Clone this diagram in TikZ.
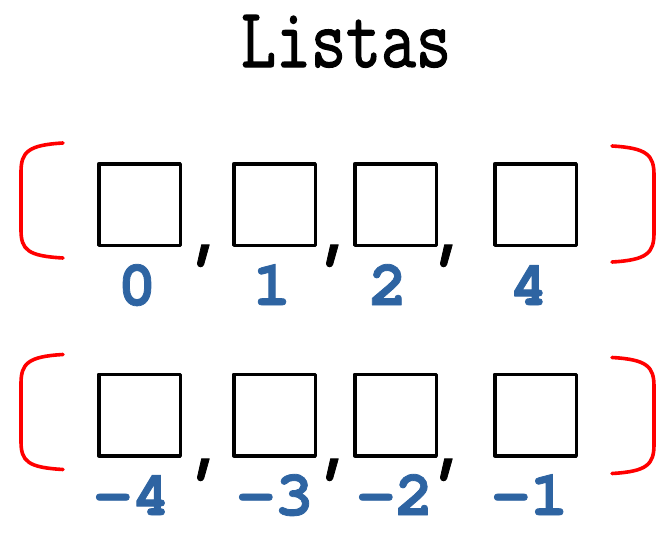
\documentclass[tikz,border=0pt]{standalone}
\usepackage{fontspec}
\newfontfamily\monob{texgyrecursor-bold.otf}[FakeBold=1.2]
\newfontfamily\tieudefont{Latin Modern Mono}[FakeStretch=0.8, FakeBold=1.5]
\usetikzlibrary{positioning}
\definecolor{xanhso}{RGB}{46,100,162}
\begin{document}
\begin{tikzpicture}[x=1pt, y=-1pt, line join=round, line cap=round,
	o/.style={draw, line width=3.5pt, minimum size=81.5pt, inner sep=0pt},
	idx/.style={text=xanhso, font=\fontsize{64}{64}\monob, anchor=base, inner sep=0pt},
	phay/.style={font=\fontsize{64}{64}\monob, anchor=base, inner sep=0pt},
	ngoac/.style={draw=red, line width=3.6pt}]
	\useasboundingbox (0,0) rectangle (672,543);
	\node[font=\fontsize{85}{85}\tieudefont, anchor=base] (tieude) at (346,67) {Listas};
	% Hàng trên
	\foreach \x/\lx/\s [count=\i] in {139.5/137/0, 274.5/272/1, 395.5/388/2, 535.5/529/4}{
		\node[o] (a\i) at (\x,204.5) {};
		\node[idx] (la\i) at (\lx,305) {\s};}
	% Hàng dưới
	\foreach \x/\lx/\s [count=\i] in {139.5/132/-4, 274.5/275/-3, 395.5/395/-2, 535.5/530/-1}{
		\node[o] (b\i) at (\x,415) {};
		\node[idx] (lb\i) at (\lx,515) {\s};}
	\foreach \x [count=\i] in {208,337,451}{
		\node[phay] (pa\i) at (\x,255) {,};
		\node[phay] (pb\i) at (\x,469) {,};}
	% Ngoặc
	\foreach \dy in {0,211.5}{
		\draw[ngoac] (63,{143+\dy}) .. controls (28,{145+\dy}) and (21,{152+\dy}) .. (21,{172+\dy}) -- (21,{230+\dy}) .. controls (21,{250+\dy}) and (28,{256+\dy}) .. (63,{258+\dy});
		\draw[ngoac] (612,{146+\dy}) .. controls (647,{148+\dy}) and (654,{155+\dy}) .. (654,{175+\dy}) -- (654,{233+\dy}) .. controls (654,{253+\dy}) and (647,{260+\dy}) .. (612,{262+\dy});}
\end{tikzpicture}
\end{document}
